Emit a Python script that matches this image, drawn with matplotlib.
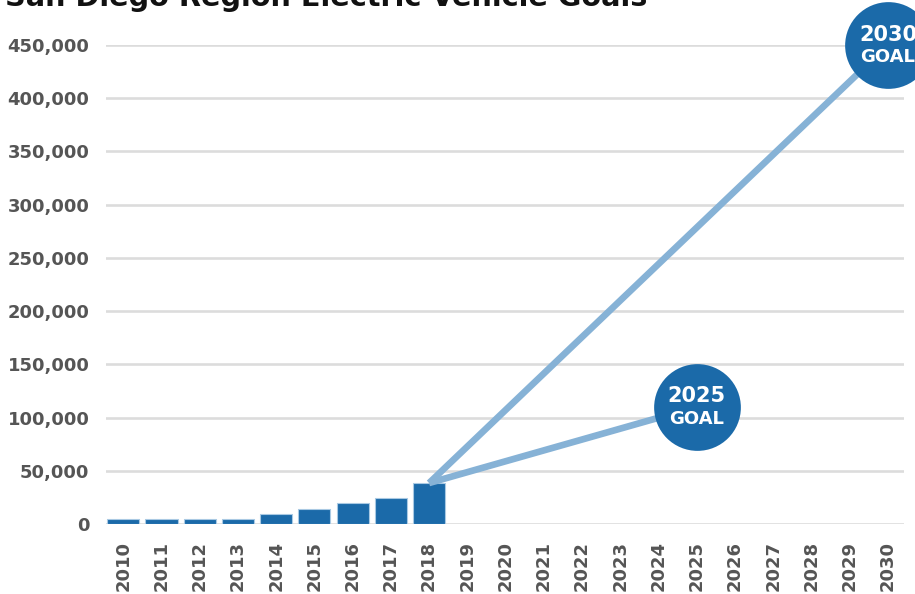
import matplotlib
matplotlib.use("Agg")
import matplotlib.pyplot as plt
import numpy as np

years = [str(y) for y in range(2010, 2031)]
bar_years = ["2010", "2011", "2012", "2013", "2014", "2015", "2016", "2017", "2018"]
bar_values = [5000, 5000, 5000, 5000, 9500, 14000, 19500, 24500, 38500]
goal_years = ["2025", "2030"]
goal_values = [110000, 450000]
goal_labels = ["2025\nGOAL", "2030\nGOAL"]
y_ticks = [0, 50000, 100000, 150000, 200000, 250000, 300000, 350000, 400000, 450000]
title = "San Diego Region Electric Vehicle Goals"

W, H = 915, 594
fig = plt.figure(figsize=(W / 100, H / 100), dpi=100)
left, right, top, bottom = 106, 904, 45, 524
ax = fig.add_axes([left / W, 1 - bottom / H, (right - left) / W, (bottom - top) / H])

xpos = {y: i for i, y in enumerate(years)}
bx = [xpos[y] for y in bar_years]
ax.bar(bx, bar_values, width=0.84, color="#1B6AA9", edgecolor="#A9C9E3",
       linewidth=0.8, zorder=3)

last_x, last_v = bx[-1], bar_values[-1]
for gy, gv in zip(goal_years, goal_values):
    ax.plot([last_x, xpos[gy]], [last_v, gv], color="#86B2D6", lw=4.8,
            solid_capstyle="butt", zorder=4, clip_on=False)

gx = [xpos[y] for y in goal_years]
ax.scatter(gx, goal_values, s=3900, color="#1B6AA9", zorder=5, clip_on=False,
           linewidths=0)
for x, v, lab in zip(gx, goal_values, goal_labels):
    num, word = lab.split("\n")
    ax.annotate(num, (x, v), xytext=(0, 7.5), textcoords="offset points",
                ha="center", va="center", color="white", fontsize=15,
                fontweight="bold", zorder=6, annotation_clip=False)
    ax.annotate(word, (x, v), xytext=(0, -9), textcoords="offset points",
                ha="center", va="center", color="white", fontsize=13,
                fontweight="bold", zorder=6, annotation_clip=False)

ax.set_xlim(-0.45, len(years) - 1 + 0.42)
ax.set_ylim(0, 450000)
ax.set_yticks(y_ticks)
ax.set_yticklabels([f"{v:,}" for v in y_ticks])
ax.set_xticks(range(len(years)))
ax.set_xticklabels(years, rotation=90)
ax.grid(axis="y", color="#DCDCDC", lw=1.9, zorder=0)
ax.set_axisbelow(True)
for s in ax.spines.values():
    s.set_visible(False)
ax.tick_params(axis="both", length=0, labelcolor="#555555", labelsize=13)
ax.tick_params(axis="x", pad=12)
ax.tick_params(axis="y", pad=12)
for lbl in ax.get_xticklabels() + ax.get_yticklabels():
    lbl.set_fontweight("bold")

fig.text(5 / W, 1 - 6 / H, title, ha="left", va="baseline", fontsize=20.7,
         fontweight="bold", color="#111111")

fig.savefig("out.png", dpi=100)
